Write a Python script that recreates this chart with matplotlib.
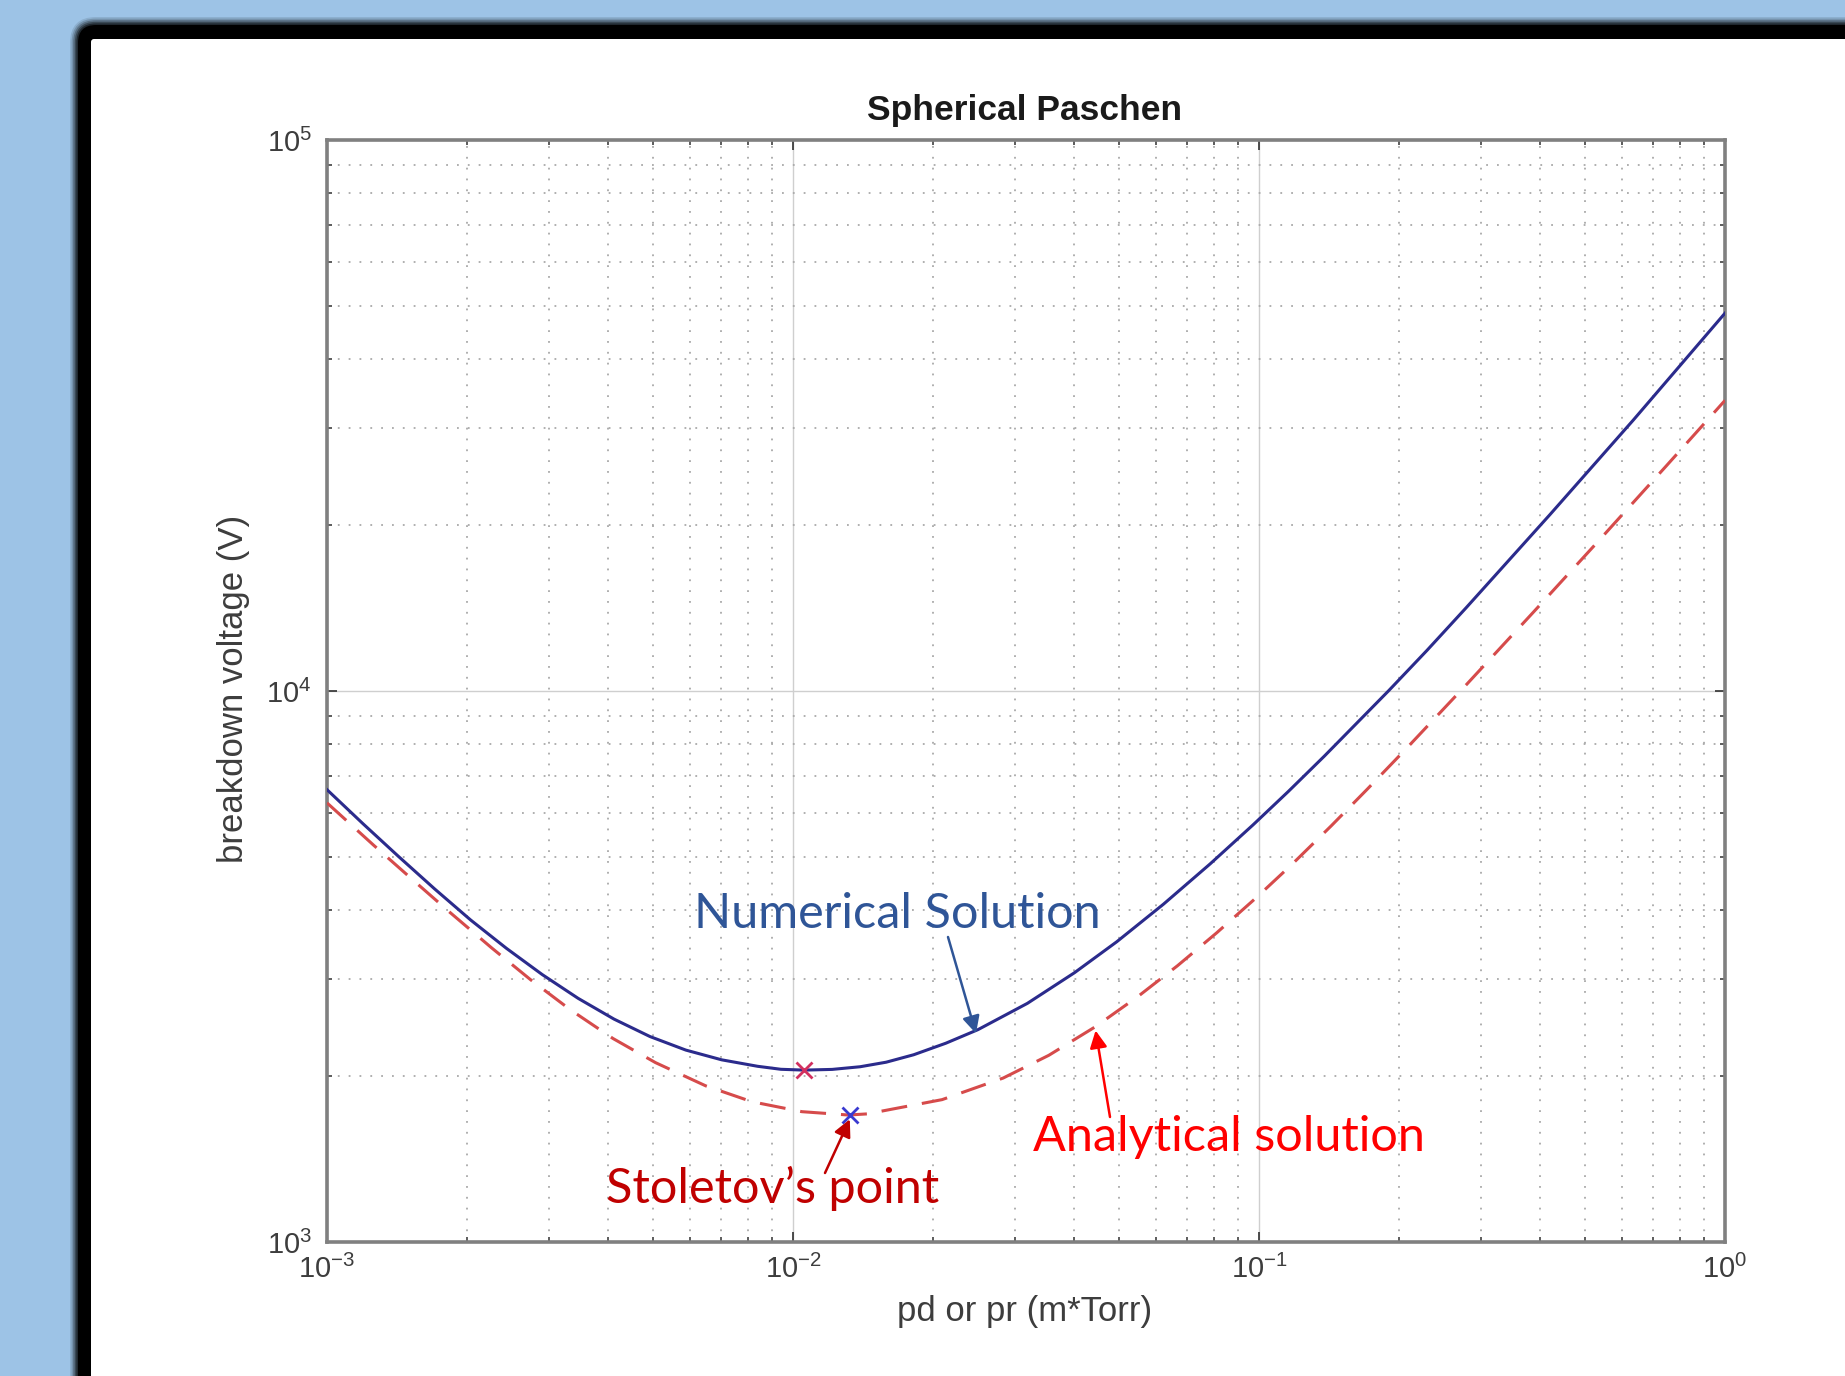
import matplotlib
matplotlib.use("Agg")
import matplotlib.pyplot as plt
from matplotlib.patches import FancyBboxPatch
from matplotlib.transforms import IdentityTransform

# ---------------- data ----------------
pd_numerical = [0.0010000, 0.0011940, 0.0014256, 0.0017022, 0.0020324, 0.0024266,
                 0.0028973, 0.0034594, 0.0041305, 0.0049317, 0.0058884, 0.0070307,
                 0.0083946, 0.0094189, 0.010568, 0.012134, 0.013932, 0.015849,
                 0.018155, 0.021281, 0.024946, 0.031842, 0.040179, 0.049545,
                 0.062373, 0.078524, 0.097051, 0.115611, 0.138038, 0.189671,
                 0.229087, 0.278612, 0.420727, 0.635331, 1.000000]
v_numerical = [6621, 5745, 5004, 4373, 3842, 3412,
               3057, 2768, 2538, 2360, 2230, 2141,
               2084, 2058, 2051, 2057, 2080, 2120,
               2187, 2295, 2429, 2711, 3081, 3508,
               4103, 4854, 5713, 6572, 7614, 10007,
               11838, 14175, 20883, 31009, 48500]

pd_analytical = [0.001000, 0.001259, 0.001528, 0.001824, 0.002254, 0.002735, 0.003327,
                 0.004111, 0.005070, 0.006501, 0.008166, 0.010447, 0.013152, 0.014421,
                 0.020893, 0.028249, 0.035400, 0.044566, 0.055081, 0.066834, 0.081096,
                 0.098628, 0.117761, 0.142889, 0.170608, 0.207014, 0.278612, 0.387258,
                 0.537032, 0.748810, 1.000000]
v_analytical = [6266, 5250, 4542, 3983, 3420, 2992, 2640,
                2340, 2116, 1920, 1797, 1724, 1700, 1708,
                1813, 1984, 2182, 2459, 2793, 3172, 3639,
                4215, 4848, 5692, 6630, 7860, 10268, 13878,
                18779, 25636, 33682]

numerical_min_pd = [0.01057]
numerical_min_v = [2051]
analytical_min_pd = [0.01328]
analytical_min_v = [1700]

title_text = "Spherical Paschen"
xlabel_text = "pd or pr (m*Torr)"
ylabel_text = "breakdown voltage (V)"
label_numerical = "Numerical Solution"
label_analytical = "Analytical solution"
label_stoletov = "Stoletov\u2019s point"

# ---------------- figure ----------------
W, H = 1845, 1376
plt.rcParams["font.family"] = ["Liberation Sans", "DejaVu Sans"]
plt.rcParams["axes.unicode_minus"] = False

fig = plt.figure(figsize=(W / 100, H / 100), dpi=100, facecolor="#9DC3E6")


def fx(x):
    return x / W


def fy(y):
    return 1 - y / H


def box(x0, ytop, x1, ybot, r, **kw):
    p = FancyBboxPatch((x0, H - ybot), x1 - x0, ybot - ytop,
                       boxstyle=f"round,pad=0,rounding_size={r}",
                       transform=IdentityTransform(), **kw)
    fig.add_artist(p)
    return p


# soft shadow + black frame + white panel
for i, a in enumerate([0.10, 0.16, 0.24, 0.34, 0.46]):
    k = 8 - 1.6 * i
    box(78 - k, 25 - k, W + 60, H + 60, 18 + k, facecolor="black", edgecolor="none",
        alpha=a, zorder=-30 + i)
box(78, 25, W + 60, H + 60, 18, facecolor="black", edgecolor="none", zorder=-20)
box(91, 39, W + 60, H + 60, 3, facecolor="white", edgecolor="none", zorder=-19)

# ---------------- axes ----------------
ax = fig.add_axes([fx(327), fy(1242), fx(1725 - 327), (1242 - 140) / H])
ax.set_facecolor("white")
ax.set_xscale("log")
ax.set_yscale("log")

ax.plot(pd_numerical, v_numerical, color="#2B2B8C", lw=2.2, zorder=3,
        solid_joinstyle="round")
ax.plot(pd_analytical, v_analytical, color="#D64B4B", lw=2.2, dashes=(8.5, 4.9), zorder=3)
ax.plot(numerical_min_pd, numerical_min_v, "x", color="#D2305F", ms=11, mew=2.0, zorder=4)
ax.plot(analytical_min_pd, analytical_min_v, "x", color="#3A3AD0", ms=11, mew=2.0, zorder=4)

ax.set_xlim(1e-3, 1e0)
ax.set_ylim(1e3, 1e5)

ax.set_axisbelow(True)
ax.grid(True, which="major", color="#cfcfcf", lw=1.0, ls="-")
ax.grid(True, which="minor", color="#a9a9a9", lw=1.3, ls=(0, (1, 5)))

for s in ax.spines.values():
    s.set_color("#808080")
    s.set_linewidth(2.6)

ax.tick_params(which="both", direction="in", top=True, right=True, color="#303030")
ax.tick_params(which="major", length=7, width=1.2, labelsize=21, labelcolor="#3d3d3d", pad=9)
ax.tick_params(which="minor", length=3.5, width=1.1)
ax.tick_params(axis="y", which="major", pad=11)

fig.text(fx(1025), fy(120), title_text, ha="center", va="baseline",
         fontsize=25.5, fontweight="bold", color="#1a1a1a")
fig.text(fx(1025), fy(1311), xlabel_text, ha="center", va="center",
         fontsize=25, color="#3d3d3d")
fig.text(fx(233), fy(689), ylabel_text, ha="center", va="center", rotation=90,
         fontsize=25, color="#3d3d3d")

# ---------------- annotations ----------------
ann_font = ["Lato", "DejaVu Sans"]
fig.text(fx(694), fy(928), label_numerical, ha="left", va="baseline",
         fontsize=35, color="#2F5597", family=ann_font)
fig.text(fx(1033), fy(1151), label_analytical, ha="left", va="baseline",
         fontsize=35, color="#FF0000", family=ann_font)
fig.text(fx(606), fy(1203), label_stoletov, ha="left", va="baseline",
         fontsize=35, color="#C00000", family=ann_font)

arrow_kw = dict(arrowstyle="-|>", lw=1.8, mutation_scale=26, shrinkA=0, shrinkB=0)
ax.annotate("", xy=(0.0247, 2390), xycoords="data",
            xytext=(fx(948), fy(937)), textcoords="figure fraction",
            arrowprops=dict(color="#2F5597", **arrow_kw), zorder=6)
ax.annotate("", xy=(0.0446, 2420), xycoords="data",
            xytext=(fx(1110), fy(1117)), textcoords="figure fraction",
            arrowprops=dict(color="#FF0000", **arrow_kw), zorder=6)
ax.annotate("", xy=(0.01324, 1670), xycoords="data",
            xytext=(fx(825), fy(1173)), textcoords="figure fraction",
            arrowprops=dict(color="#C00000", **arrow_kw), zorder=6)

fig.savefig("out.png", dpi=100, facecolor=fig.get_facecolor())
